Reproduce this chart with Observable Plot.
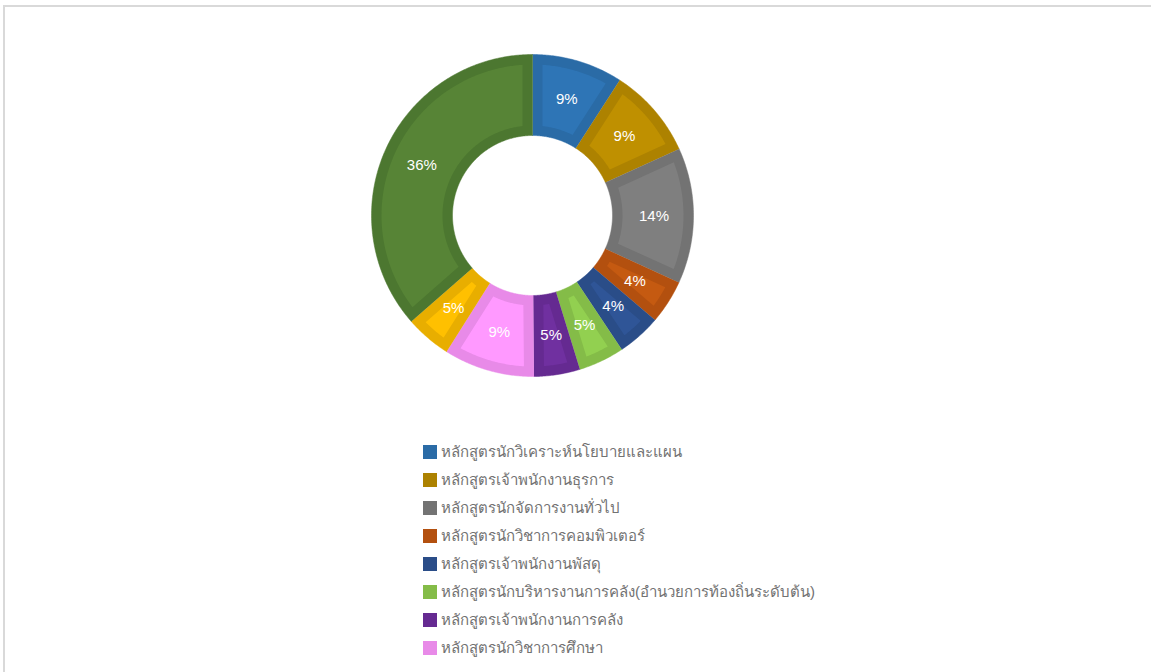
<!DOCTYPE html>
<html><head><meta charset="utf-8">
<script src="https://cdn.jsdelivr.net/npm/d3@7"></script>
<script src="https://cdn.jsdelivr.net/npm/@observablehq/plot@0.6"></script>
<style>
body{margin:0;background:#fff;font-family:"Liberation Sans",Arial,sans-serif}
#wrap{position:relative;width:1151px;height:672px;overflow:hidden}
#frame{position:absolute;left:3px;top:5px;right:-10px;bottom:-10px;border-top:2px solid #d9d9d9;border-left:2px solid #d9d9d9}
#chart{position:absolute;left:0;top:0}
#legend{position:absolute;left:423px;top:438px}
.row{display:flex;align-items:center;height:28px}
.sw{width:14px;height:14px;margin-right:4px;flex:none}
.lab{font-size:15px;color:#727272;white-space:nowrap;line-height:16px}
</style>
</head><body>
<div id="wrap"><div id="frame"></div><div id="chart"></div><div id="legend"></div></div>
<script>
const categories = [
  "หลักสูตรนักวิเคราะห์นโยบายและแผน",
  "หลักสูตรเจ้าพนักงานธุรการ",
  "หลักสูตรนักจัดการงานทั่วไป",
  "หลักสูตรนักวิชาการคอมพิวเตอร์",
  "หลักสูตรเจ้าพนักงานพัสดุ",
  "หลักสูตรนักบริหารงานการคลัง(อำนวยการท้องถิ่นระดับต้น)",
  "หลักสูตรเจ้าพนักงานการคลัง",
  "หลักสูตรนักวิชาการศึกษา",
  "หลักสูตร 9",
  "หลักสูตร 10"
];
const values = [9.1, 9.1, 13.6, 4.4, 4.4, 4.6, 4.6, 9.1, 4.6, 36.4];
const fillColors = ["#2e75b6","#bf9000","#7f7f7f","#c55a11","#2f5597","#92d050","#7030a0","#ff99ff","#ffc000","#578436"];
const borderColors = ["#2a6ba6","#ad8200","#737373","#b3500f","#2a4d88","#84bc48","#652a91","#e88ae8","#e8ae00","#4c7730"];
const legendShown = 8;

const W = 1151, H = 420, cx = 532, cy = 215, R1 = 161, R0 = 80, inset = 10;
const total = d3.sum(values);
const arcs = d3.pie().sort(null).value(d => d)(values);

function sector(id, a0, a1, r0, r1, d, color) {
  const pts = [];
  const ro = r1 - d, ri = r0 + d;
  const so = d ? Math.asin(d / ro) : 0, si = d ? Math.asin(d / ri) : 0;
  let b0 = a0 + so, b1 = a1 - so;
  if (b1 < b0) { const m = (a0 + a1) / 2; b0 = b1 = m; }
  let c0 = a0 + si, c1 = a1 - si;
  if (c1 < c0) { const m = (a0 + a1) / 2; c0 = c1 = m; }
  const n1 = Math.max(2, Math.ceil((b1 - b0) / 0.01));
  for (let k = 0; k <= n1; k++) {
    const a = b0 + (b1 - b0) * k / n1;
    pts.push({id, color, x: cx + ro * Math.sin(a), y: cy - ro * Math.cos(a)});
  }
  const n2 = Math.max(2, Math.ceil((c1 - c0) / 0.01));
  for (let k = 0; k <= n2; k++) {
    const a = c1 - (c1 - c0) * k / n2;
    pts.push({id, color, x: cx + ri * Math.sin(a), y: cy - ri * Math.cos(a)});
  }
  return pts;
}

const outerRows = arcs.flatMap((a, i) => sector("o" + i, a.startAngle, a.endAngle, R0, R1, 0, borderColors[i]));
const innerRows = arcs.flatMap((a, i) => sector("i" + i, a.startAngle, a.endAngle, R0, R1, inset, fillColors[i]));
const labelRows = arcs.map((a, i) => {
  const m = (a.startAngle + a.endAngle) / 2, r = (R0 + R1) / 2 + 1;
  return {x: cx + r * Math.sin(m), y: cy - r * Math.cos(m), text: Math.round(values[i] / total * 100) + "%"};
});

const chart = Plot.plot({
  width: W, height: H, margin: 0,
  style: {fontFamily: "'Liberation Sans', Arial, sans-serif", background: "transparent"},
  x: {domain: [0, W], range: [0, W], axis: null},
  y: {domain: [0, H], range: [0, H], axis: null},
  color: {type: "identity"},
  marks: [
    Plot.line(outerRows, {x: "x", y: "y", z: "id", fill: "color", stroke: "color", strokeWidth: 0.5, curve: "linear"}),
    Plot.line(innerRows, {x: "x", y: "y", z: "id", fill: "color", stroke: "none", curve: "linear"}),
    Plot.text(labelRows, {x: "x", y: "y", text: "text", fill: "white", fontSize: 15})
  ]
});
document.getElementById("chart").appendChild(chart);

const leg = d3.select("#legend");
categories.slice(0, legendShown).forEach((c, i) => {
  const row = leg.append("div").attr("class", "row");
  row.append("div").attr("class", "sw").style("background", borderColors[i]);
  row.append("div").attr("class", "lab").text(c);
});
</script>
</body></html>
